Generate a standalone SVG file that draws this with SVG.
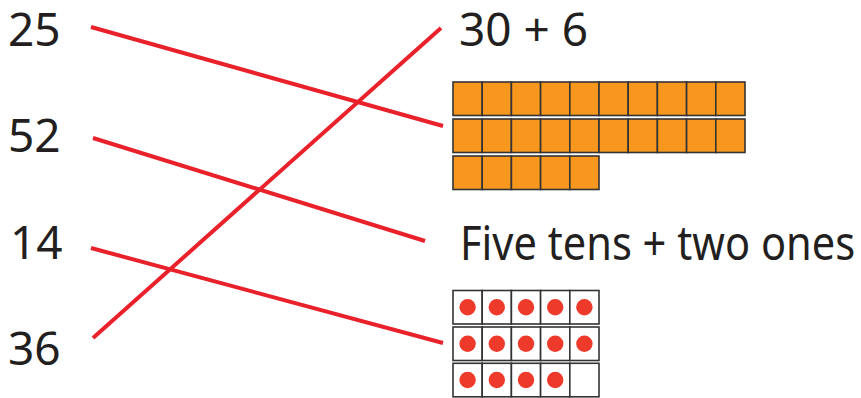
<svg xmlns="http://www.w3.org/2000/svg" width="861" height="398" viewBox="0 0 861 398">
<style>
text{font-family:"Noto Sans","Open Sans","Liberation Sans",sans-serif;font-size:46px;fill:#231f20}
.o{fill:#f7971e;stroke:#333;stroke-width:1.6}
.w{fill:#fff;stroke:#333;stroke-width:1.6}
.d{fill:#ee3a2b}
.c line{stroke:#e8212b;stroke-width:4;stroke-linecap:butt}
</style>
<defs>
<g id="orow">
<rect class="o" x="0" y="0" width="29.2" height="33.5"/><rect class="o" x="29.2" y="0" width="29.2" height="33.5"/><rect class="o" x="58.4" y="0" width="29.2" height="33.5"/><rect class="o" x="87.6" y="0" width="29.2" height="33.5"/><rect class="o" x="116.8" y="0" width="29.2" height="33.5"/>
</g>
<g id="wrow">
<rect class="w" x="0" y="0" width="29.2" height="33.5"/><rect class="w" x="29.2" y="0" width="29.2" height="33.5"/><rect class="w" x="58.4" y="0" width="29.2" height="33.5"/><rect class="w" x="87.6" y="0" width="29.2" height="33.5"/><rect class="w" x="116.8" y="0" width="29.2" height="33.5"/>
</g>
<g id="drow">
<circle class="d" cx="14.6" cy="16.75" r="8.2"/><circle class="d" cx="43.8" cy="16.75" r="8.2"/><circle class="d" cx="73" cy="16.75" r="8.2"/><circle class="d" cx="102.2" cy="16.75" r="8.2"/>
</g>
</defs>
<g id="n25"><text x="8" y="45.5">25</text></g>
<g id="n52"><text x="8" y="152">52</text></g>
<g id="n14"><text x="10" y="259">14</text></g>
<g id="n36"><text x="8" y="365">36</text></g>
<g id="e30p6"><text x="459" y="45.7">30 + 6</text></g>
<g id="efive"><text transform="translate(460,260) scale(1,1.12)" x="0" y="0" style="font-size:41.6px">Five tens + two ones</text></g>
<g id="blocks">
<use href="#orow" x="453" y="82"/><use href="#orow" x="599" y="82"/>
<use href="#orow" x="453" y="119"/><use href="#orow" x="599" y="119"/>
<use href="#orow" x="453" y="156"/>
</g>
<g id="dots">
<use href="#wrow" x="453" y="290.5"/><use href="#wrow" x="453" y="327"/><use href="#wrow" x="453" y="363.3"/>
<use href="#drow" x="453" y="290.5"/><circle class="d" cx="584.4" cy="307.25" r="8.2"/>
<use href="#drow" x="453" y="327"/><circle class="d" cx="584.4" cy="343.75" r="8.2"/>
<use href="#drow" x="453" y="363.3"/>
</g>
<g class="c" id="connectors">
<line x1="91" y1="27" x2="443" y2="126"/>
<line x1="93" y1="138" x2="425" y2="241"/>
<line x1="91" y1="248" x2="443" y2="343"/>
<line x1="93" y1="338" x2="441" y2="28"/>
</g>
</svg>
